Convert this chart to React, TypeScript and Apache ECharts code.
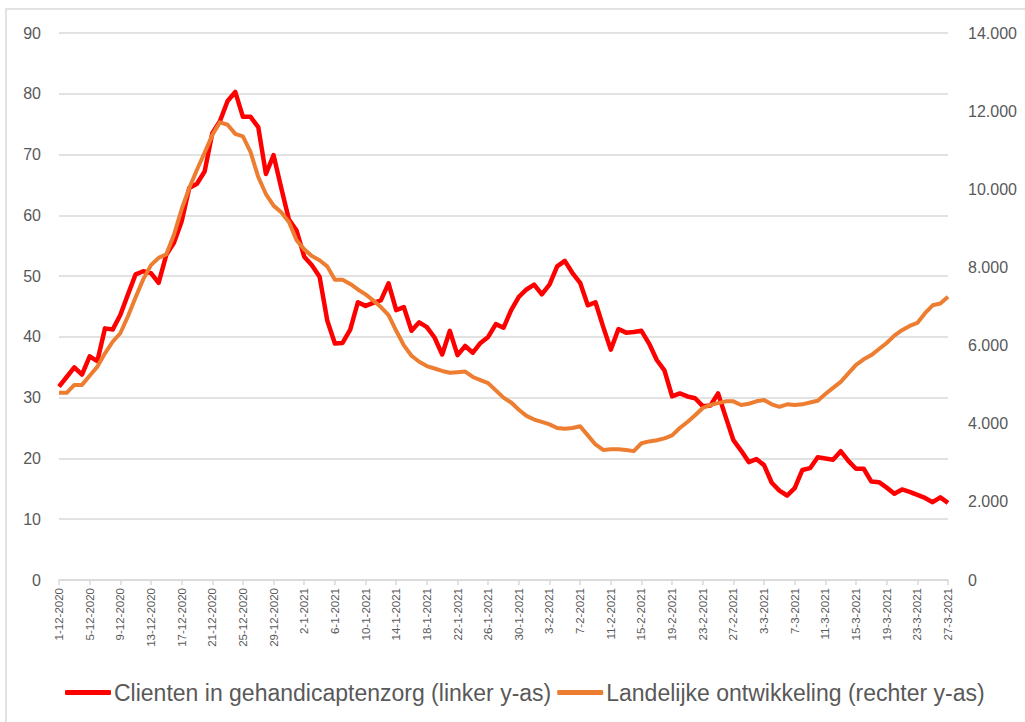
import React, { useEffect, useRef } from "react";
import * as echarts from "echarts";

// Category axis: every day from 1-12-2020 to 27-3-2021
const START = { y: 2020, m: 12, d: 1 };
const DAY_COUNT = 117;
const dates: string[] = (() => {
  const out: string[] = [];
  const dt = new Date(Date.UTC(START.y, START.m - 1, START.d));
  for (let i = 0; i < DAY_COUNT; i++) {
    out.push(`${dt.getUTCDate()}-${dt.getUTCMonth() + 1}-${dt.getUTCFullYear()}`);
    dt.setUTCDate(dt.getUTCDate() + 1);
  }
  return out;
})();

const seriesNames = [
  "Clienten in gehandicaptenzorg (linker y-as)",
  "Landelijke ontwikkeling (rechter y-as)",
];

// Left axis (clients in disability care)
const clienten = [
  31.8, 33.4, 35.0, 33.8, 36.8, 36.0, 41.4, 41.2, 43.6, 47.0,
  50.3, 50.8, 50.5, 48.9, 53.5, 55.5, 59.0, 64.5, 65.2, 67.2,
  73.5, 75.5, 78.8, 80.3, 76.2, 76.2, 74.5, 66.8, 69.9, 64.5,
  59.3, 57.5, 53.2, 51.8, 49.9, 42.7, 38.9, 39.0, 41.2, 45.7,
  45.1, 45.6, 46.0, 48.8, 44.4, 44.9, 41.0, 42.4, 41.6, 39.9,
  37.1, 41.0, 37.0, 38.5, 37.4, 39.0, 40.0, 42.1, 41.5, 44.4,
  46.6, 47.8, 48.6, 47.0, 48.6, 51.6, 52.5, 50.5, 48.9, 45.2,
  45.7, 41.7, 37.9, 41.3, 40.7, 40.8, 41.0, 38.9, 36.2, 34.5,
  30.2, 30.7, 30.2, 29.9, 28.6, 28.7, 30.7, 26.8, 23.0, 21.3,
  19.4, 19.9, 18.9, 16.0, 14.7, 13.9, 15.1, 18.1, 18.4, 20.2,
  20.0, 19.8, 21.2, 19.6, 18.3, 18.3, 16.2, 16.1, 15.2, 14.2,
  14.9, 14.5, 14.0, 13.5, 12.8, 13.6, 12.7,
];

// Right axis (national development)
const landelijk = [
  4791, 4791, 4994, 4994, 5227, 5460, 5802, 6098, 6316, 6751,
  7234, 7700, 8058, 8245, 8338, 8836, 9489, 10034, 10500, 10936,
  11387, 11714, 11651, 11418, 11356, 10951, 10314, 9878, 9582, 9411,
  9162, 8696, 8462, 8291, 8183, 8027, 7685, 7685, 7576, 7436,
  7311, 7156, 6985, 6782, 6378, 6005, 5740, 5585, 5476, 5413,
  5351, 5305, 5320, 5336, 5196, 5118, 5040, 4853, 4667, 4542,
  4356, 4200, 4107, 4045, 3982, 3889, 3873, 3889, 3936, 3702,
  3469, 3329, 3345, 3345, 3329, 3298, 3500, 3547, 3578, 3625,
  3702, 3889, 4045, 4216, 4402, 4480, 4527, 4573, 4573, 4480,
  4511, 4573, 4605, 4496, 4433, 4496, 4480, 4496, 4542, 4589,
  4760, 4916, 5071, 5289, 5507, 5647, 5756, 5911, 6067, 6254,
  6393, 6502, 6580, 6829, 7031, 7078, 7249,
];

const LABEL_COLOR = "#595959";
const GRID_COLOR = "#d9d9d9";
const FONT = "'Liberation Sans', Arial, sans-serif";

function fmtThousands(v: number): string {
  return String(Math.round(v)).replace(/\B(?=(\d{3})+(?!\d))/g, ".");
}

export default function App() {
  const ref = useRef<HTMLDivElement>(null);

  useEffect(() => {
    if (!ref.current) return;
    const chart = echarts.init(ref.current, undefined, { renderer: "svg" });
    chart.setOption({
      animation: false,
      backgroundColor: "#ffffff",
      textStyle: { fontFamily: FONT },
      graphic: [
        {
          type: "rect",
          shape: { x: 6, y: 9, width: 1040, height: 730 },
          style: { fill: "none", stroke: "#d9d9d9", lineWidth: 1.5 },
          silent: true,
        },
      ],
      grid: { left: 59, right: 77, top: 33, bottom: 142, containLabel: false },
      legend: {
        data: seriesNames,
        left: 60,
        top: 676,
        icon: "roundRect",
        itemWidth: 46,
        itemHeight: 5,
        itemGap: 6,
        textStyle: { fontSize: 23, color: LABEL_COLOR, fontFamily: FONT, padding: [0, 0, 0, -2] },
      },
      xAxis: {
        type: "category",
        data: dates,
        boundaryGap: false,
        axisLine: { lineStyle: { color: GRID_COLOR, width: 1.5 } },
        axisTick: { interval: 3, length: 5, lineStyle: { color: GRID_COLOR, width: 1.5 } },
        axisLabel: {
          interval: 3,
          rotate: 90,
          fontSize: 11.5,
          color: LABEL_COLOR,
          fontFamily: FONT,
          margin: 8,
        },
        splitLine: { show: false },
      },
      yAxis: [
        {
          type: "value",
          min: 0,
          max: 90,
          interval: 10,
          position: "left",
          axisLine: { show: false },
          axisTick: { show: false },
          axisLabel: { fontSize: 16, color: LABEL_COLOR, fontFamily: FONT, margin: 18 },
          splitLine: { lineStyle: { color: GRID_COLOR, width: 1.5 } },
        },
        {
          type: "value",
          min: 0,
          max: 14000,
          interval: 2000,
          position: "right",
          axisLine: { show: false },
          axisTick: { show: false },
          axisLabel: {
            fontSize: 16,
            color: LABEL_COLOR,
            fontFamily: FONT,
            margin: 20,
            formatter: (v: number) => fmtThousands(v),
          },
          splitLine: { show: false },
        },
      ],
      series: [
        {
          name: seriesNames[0],
          type: "line",
          yAxisIndex: 0,
          data: clienten,
          showSymbol: false,
          symbol: "none",
          lineStyle: { color: "#ff0000", width: 4.5, join: "round" },
          itemStyle: { color: "#ff0000" },
        },
        {
          name: seriesNames[1],
          type: "line",
          yAxisIndex: 1,
          data: landelijk,
          showSymbol: false,
          symbol: "none",
          lineStyle: { color: "#ed7d31", width: 4, join: "round" },
          itemStyle: { color: "#ed7d31" },
        },
      ],
    });
    return () => chart.dispose();
  }, []);

  return (
    <div
      ref={ref}
      style={{ position: "fixed", left: 0, top: 0, width: 1025, height: 722, background: "#fff" }}
    />
  );
}
